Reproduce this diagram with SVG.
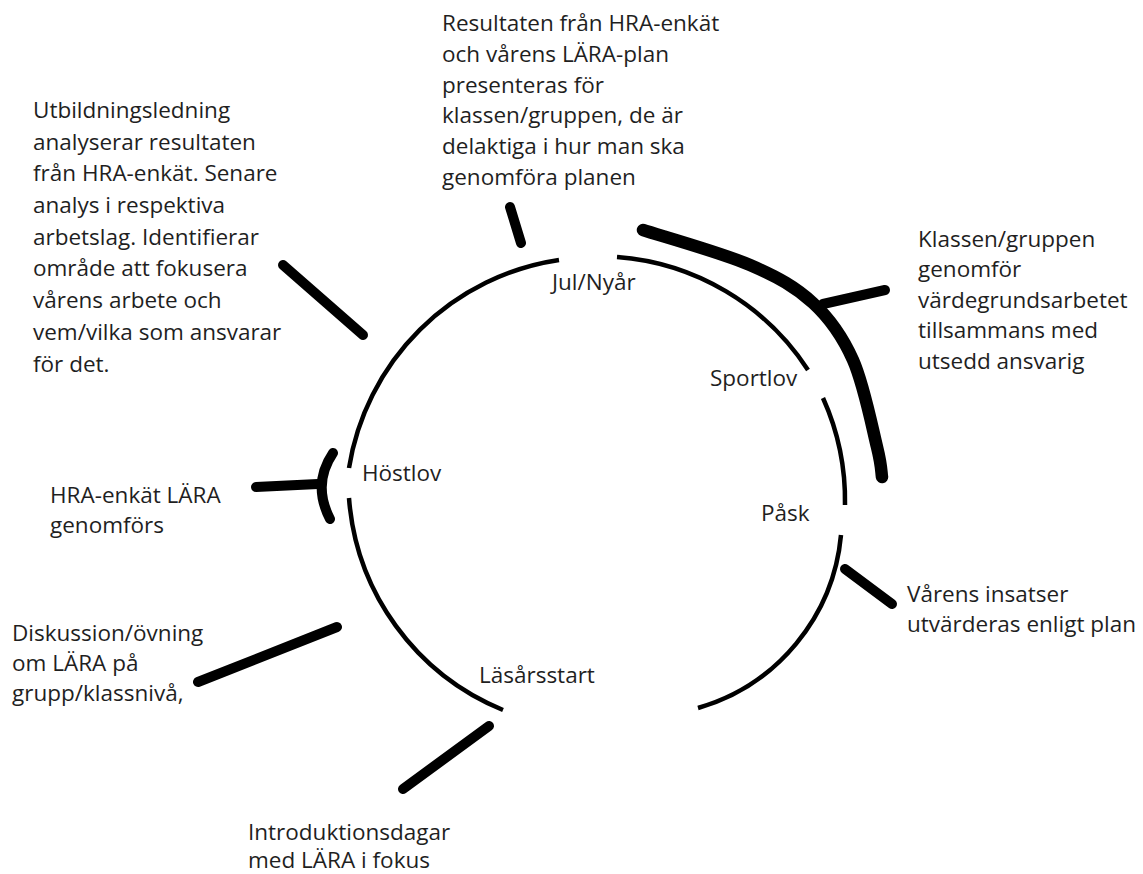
<svg xmlns="http://www.w3.org/2000/svg" width="1143" height="874" viewBox="0 0 1143 874">
<style>
.t{font-family:"Open Sans","Noto Sans","DejaVu Sans",sans-serif;font-size:22.5px;fill:#1f1f1f}
.arc{fill:none;stroke:#000;stroke-width:4.5}
.sp{fill:none;stroke:#000;stroke-width:10;stroke-linecap:round}
</style>
<rect width="1143" height="874" fill="#fff"/>
<g id="connectors">
<path class="arc" d="M349,468 A250,250 0 0 1 559,260"/>
<path class="arc" d="M617,257 A250,250 0 0 1 808,370"/>
<path class="arc" d="M823,398 A250,250 0 0 1 845,505"/>
<path class="arc" d="M841,535 A199,199 0 0 1 698,708"/>
<path class="arc" d="M349,498 A249,249 0 0 0 503,710"/>
<path fill="none" stroke="#000" stroke-width="12.5" stroke-linecap="round" d="M643,230 C660.8,235.8 721.7,252.8 750,265 C778.3,277.2 795.8,287.2 813,303 C830.2,318.8 842.3,336 853,360 C863.7,384 872.2,427.5 877,447 C881.8,466.5 881.2,472 882,477"/>
<path class="sp" d="M283,265 L363,335"/>
<path class="sp" d="M510,207 L521,243"/>
<path class="sp" d="M823,304 L885,290"/>
<path class="sp" d="M256,487 L318,484"/>
<path class="sp" d="M333,453 Q312,484 330,519"/>
<path class="sp" d="M845,569 L892,604"/>
<path class="sp" d="M198,682 L337,627"/>
<path class="sp" d="M489,726 L403,789"/>
</g>
<g id="n-utbildning"><text class="t" x="33" y="118">Utbildningsledning</text><text class="t" x="33" y="150">analyserar resultaten</text><text class="t" x="33" y="181">från HRA-enkät. Senare</text><text class="t" x="33" y="213">analys i respektiva</text><text class="t" x="33" y="245">arbetslag. Identifierar</text><text class="t" x="33" y="276">område att fokusera</text><text class="t" x="33" y="308">vårens arbete och</text><text class="t" x="33" y="340">vem/vilka som ansvarar</text><text class="t" x="33" y="372">för det.</text></g>
<g id="n-resultaten"><text class="t" x="442" y="31">Resultaten från HRA-enkät</text><text class="t" x="442" y="62">och vårens LÄRA-plan</text><text class="t" x="442" y="93">presenteras för</text><text class="t" x="442" y="123">klassen/gruppen, de är</text><text class="t" x="442" y="154">delaktiga i hur man ska</text><text class="t" x="442" y="185">genomföra planen</text></g>
<g id="n-klassen"><text class="t" x="918" y="247">Klassen/gruppen</text><text class="t" x="918" y="277">genomför</text><text class="t" x="918" y="308">värdegrundsarbetet</text><text class="t" x="918" y="338">tillsammans med</text><text class="t" x="918" y="369">utsedd ansvarig</text></g>
<g id="n-hra"><text class="t" x="50" y="503">HRA-enkät LÄRA</text><text class="t" x="50" y="533">genomförs</text></g>
<g id="n-diskussion"><text class="t" x="12" y="641">Diskussion/övning</text><text class="t" x="12" y="671">om LÄRA på</text><text class="t" x="12" y="701">grupp/klassnivå,</text></g>
<g id="n-varens"><text class="t" x="907" y="602">Vårens insatser</text><text class="t" x="907" y="632">utvärderas enligt plan</text></g>
<g id="n-intro"><text class="t" x="248" y="840">Introduktionsdagar</text><text class="t" x="248" y="868">med LÄRA i fokus</text></g>
<g id="l-jul"><text class="t" x="552" y="290">Jul/Nyår</text></g>
<g id="l-sportlov"><text class="t" x="710" y="386">Sportlov</text></g>
<g id="l-pask"><text class="t" x="761" y="521">Påsk</text></g>
<g id="l-hostlov"><text class="t" x="362" y="481">Höstlov</text></g>
<g id="l-lasar"><text class="t" x="479" y="683">Läsårsstart</text></g>
</svg>
